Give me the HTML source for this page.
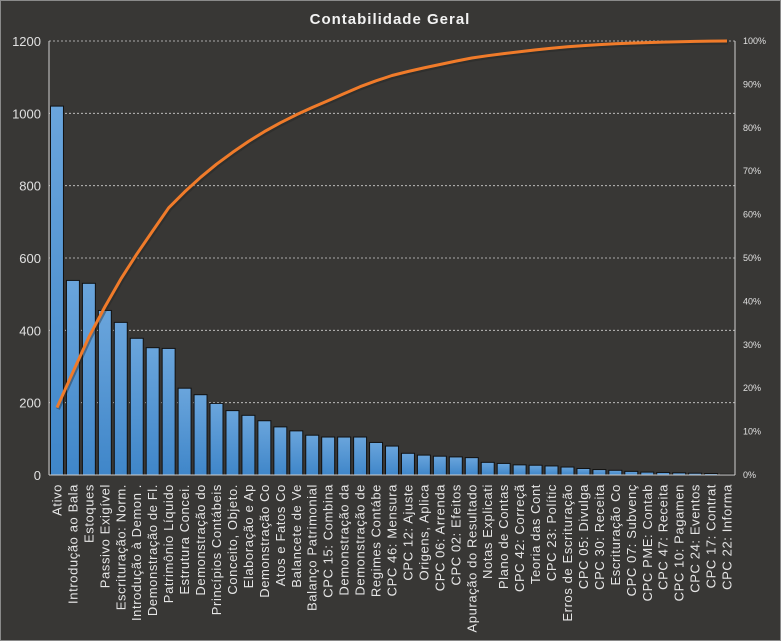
<!DOCTYPE html>
<html><head><meta charset="utf-8"><style>
html,body{margin:0;padding:0;background:#383735;}
svg{display:block;font-family:"Liberation Sans",sans-serif;}
</style></head><body>
<svg id="c" width="781" height="641" xmlns="http://www.w3.org/2000/svg">
<defs><linearGradient id="g" x1="0" y1="0" x2="0" y2="1"><stop offset="0" stop-color="#6aa5dc"/><stop offset="1" stop-color="#3f86c9"/></linearGradient></defs>
<rect x="0.5" y="0.5" width="780" height="640" fill="#383735" stroke="#8a8a8a"/>
<text x="390" y="24" text-anchor="middle" fill="#f2f2f2" font-size="15" font-weight="bold" letter-spacing="1">Contabilidade  Geral</text>
</svg>
<script>
var vals=[1020,538,530,455,422,378,352,350,240,222,198,178,165,150,133,122,110,105,105,105,90,80,60,55,52,50,48,35,32,28,27,25,22,18,15,13,10,8,7,6,5,4,2];
var labs=["Ativo","Introdução  ao Bala","Estoques","Passivo Exigível","Escrituração: Norm.","Introdução  à Demon .","Demonstração de Fl.","Patrimônio  Líquido","Estrutura Concei.","Demonstração do","Princípios Contábeis","Conceito, Objeto.","Elaboração e Ap","Demonstração Co","Atos e Fatos Co","Balancete de Ve","Balanço Patrimonial","CPC 15: Combina","Demonstração da","Demonstração de","Regimes Contábe","CPC 46: Mensura","CPC 12: Ajuste","Origens, Aplica","CPC 06: Arrenda","CPC 02: Efeitos","Apuração do Resultado","Notas Explicati","Plano de Contas","CPC 42: Correçã","Teoria das Cont","CPC 23: Polític","Erros de Escrituração","CPC 05: Divulga","CPC 30: Receita","Escrituração Co","CPC 07: Subvenç","CPC PME: Contab","CPC 47: Receita","CPC 10: Pagamen","CPC 24: Eventos","CPC 17: Contrat","CPC 22: Informa"];
var s='',L=49,R=735,T=41,B=475,H=B-T,n=vals.length,w=(R-L)/n;
for(var i=0;i<=6;i++){var y=B-i*H/6;
 if(i>0)s+='<line x1="'+L+'" x2="'+R+'" y1="'+y+'" y2="'+y+'" stroke="#cfcfcf" stroke-dasharray="2,2" stroke-width="0.8"/>';
 s+='<text x="'+(L-8)+'" y="'+(y+5)+'" text-anchor="end" fill="#e0e0e0" font-size="13">'+(i*200)+'</text>';}
for(var i=0;i<=10;i++){var y=B-i*H/10;s+='<text x="'+(R+8)+'" y="'+(y+3)+'" fill="#e0e0e0" font-size="9">'+(i*10)+'%</text>';}
var tot=vals.reduce(function(a,b){return a+b},0),c=0,pts=[];
for(var i=0;i<n;i++){var x=L+i*w,h=vals[i]*H/1200;
 s+='<rect x="'+(x+1.5)+'" y="'+(B-h)+'" width="'+(w-3)+'" height="'+h+'" fill="url(#g)" stroke="#111" stroke-width="1"/>';
 c+=vals[i];pts.push((x+w/2).toFixed(1)+','+(B-c/tot*H).toFixed(1));
 s+='<text transform="translate('+(x+w/2+4.5)+',484) rotate(-90)" text-anchor="end" fill="#e6e6e6" font-size="13" letter-spacing="0.6">'+labs[i]+'</text>';}
s+='<line x1="'+L+'" x2="'+L+'" y1="'+T+'" y2="'+B+'" stroke="#cfcfcf"/><line x1="'+R+'" x2="'+R+'" y1="'+T+'" y2="'+B+'" stroke="#cfcfcf"/><line x1="'+L+'" x2="'+R+'" y1="'+B+'" y2="'+B+'" stroke="#cfcfcf"/>';
s+='<polyline points="'+pts.join(' ')+'" fill="none" stroke="#222" stroke-width="4" opacity="0.4" transform="translate(1,1.5)"/>';
s+='<polyline points="'+pts.join(' ')+'" fill="none" stroke="#f07b2a" stroke-width="3" stroke-linejoin="round"/>';
document.getElementById('c').insertAdjacentHTML('beforeend',s);
</script>
</body></html>
